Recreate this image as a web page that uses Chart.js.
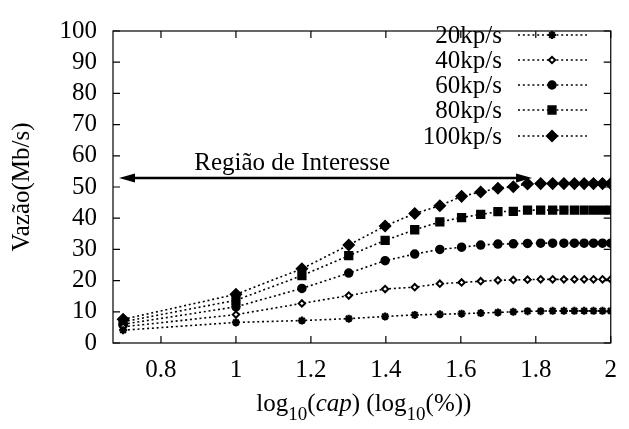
<!DOCTYPE html>
<html><head><meta charset="utf-8">
<script src="https://cdn.jsdelivr.net/npm/chart.js@4/dist/chart.umd.min.js"></script>
<style>html,body{margin:0;padding:0;background:#fff}#wrap{width:629px;height:429px}</style>
</head><body><div id="wrap"><canvas id="c" width="629" height="429"></canvas></div>
<script>
// x = log10(cap) positions (cap = 5,10,...,100 %)
const xVals = [0.699, 1.000, 1.176, 1.301, 1.398, 1.477, 1.544, 1.602, 1.653, 1.699,
               1.740, 1.778, 1.813, 1.845, 1.875, 1.903, 1.929, 1.954, 1.978, 2.000];
const seriesLabels = ['20kp/s', '40kp/s', '60kp/s', '80kp/s', '100kp/s'];
const s20  = [4.1, 6.6, 7.2, 7.8, 8.5, 9.0, 9.2, 9.4, 9.6, 9.8, 10.0, 10.2, 10.2, 10.3, 10.3, 10.3, 10.3, 10.3, 10.3, 10.3];
const s40  = [5.2, 9.1, 12.7, 15.2, 17.3, 17.9, 19.0, 19.4, 19.8, 20.1, 20.2, 20.3, 20.4, 20.4, 20.4, 20.4, 20.4, 20.4, 20.4, 20.4];
const s60  = [6.0, 11.6, 17.5, 22.4, 26.4, 28.5, 30.0, 30.7, 31.4, 31.7, 31.8, 31.9, 32.0, 32.0, 32.0, 32.0, 32.0, 32.0, 32.0, 32.0];
const s80  = [6.8, 13.7, 21.6, 28.0, 32.9, 36.3, 38.8, 40.2, 41.2, 42.1, 42.2, 42.6, 42.6, 42.6, 42.6, 42.6, 42.6, 42.6, 42.6, 42.6];
const s100 = [7.6, 15.6, 23.8, 31.4, 37.5, 41.5, 44.0, 47.0, 48.4, 49.6, 50.1, 51.0, 51.1, 51.1, 51.1, 51.1, 51.1, 51.1, 51.1, 51.1];
const xTicks = [0.8, 1.0, 1.2, 1.4, 1.6, 1.8, 2.0];
const yTicks = [0, 10, 20, 30, 40, 50, 60, 70, 80, 90, 100];
const yTitle = 'Vazão(Mb/s)';
const xTitleParts = [
  {t: 'log'}, {t: '10', sub: true}, {t: '('}, {t: 'cap', it: true}, {t: ') (log'}, {t: '10', sub: true}, {t: '(%))'}
];
const annotationText = 'Região de Interesse';
const arrowFrom = 0.688, arrowTo = 1.79, arrowY = 52.9, annotationTextX = 1.15, annotationTextY = 57.5;

const FONT = "'Liberation Serif', 'Times New Roman', serif";
const FS = 25;

const styles = [
  {pointStyle: 'star', radius: 4, borderWidth: 2.2, bg: '#000'},
  {pointStyle: 'rectRot', radius: 3.2, borderWidth: 2, bg: '#fff'},
  {pointStyle: 'circle', radius: 4, borderWidth: 1.5, bg: '#000'},
  {pointStyle: 'rect', radius: 5.5, borderWidth: 1.5, bg: '#000'},
  {pointStyle: 'rectRot', radius: 5.5, borderWidth: 1.5, bg: '#000'}
];
const seriesData = [s20, s40, s60, s80, s100];

const datasets = seriesData.map((arr, i) => ({
  label: seriesLabels[i],
  data: arr.map((v, j) => ({x: xVals[j], y: v})),
  borderColor: '#000',
  borderWidth: 1.6,
  borderDash: [2, 2.8],
  pointStyle: styles[i].pointStyle,
  pointRadius: styles[i].radius,
  pointBorderWidth: styles[i].borderWidth,
  pointBackgroundColor: styles[i].bg,
  pointBorderColor: '#000',
  fill: false,
  tension: 0
}));

const framePlugin = {
  id: 'frame',
  afterDatasetsDraw(chart) {
    const ctx = chart.ctx;
    const xs = chart.scales.x, ys = chart.scales.y;
    // annotation arrow
    const x1 = xs.getPixelForValue(arrowFrom), x2 = xs.getPixelForValue(arrowTo), y = ys.getPixelForValue(arrowY);
    ctx.save();
    ctx.strokeStyle = '#000'; ctx.fillStyle = '#000'; ctx.lineWidth = 2.5;
    ctx.beginPath(); ctx.moveTo(x1 + 8, y); ctx.lineTo(x2 - 8, y); ctx.stroke();
    const head = (xt, dir) => {
      ctx.beginPath(); ctx.moveTo(xt, y); ctx.lineTo(xt - dir * 16, y - 4.5); ctx.lineTo(xt - dir * 16, y + 4.5); ctx.closePath(); ctx.fill();
    };
    head(x1, -1); head(x2, 1);
    ctx.font = FS + 'px ' + FONT; ctx.textAlign = 'center'; ctx.textBaseline = 'middle';
    ctx.fillText(annotationText, xs.getPixelForValue(annotationTextX), ys.getPixelForValue(annotationTextY));
    ctx.restore();
  },
  afterDraw(chart) {
    const ctx = chart.ctx;
    const a = chart.chartArea;
    const xs = chart.scales.x, ys = chart.scales.y;
    ctx.save();
    ctx.strokeStyle = '#000'; ctx.lineWidth = 1.2;
    ctx.strokeRect(a.left, a.top, a.right - a.left, a.bottom - a.top);
    const TL = 7;
    ctx.beginPath();
    xTicks.forEach(v => {
      const px = xs.getPixelForValue(v);
      ctx.moveTo(px, a.bottom); ctx.lineTo(px, a.bottom - TL);
      ctx.moveTo(px, a.top); ctx.lineTo(px, a.top + TL);
    });
    yTicks.forEach(v => {
      const py = ys.getPixelForValue(v);
      ctx.moveTo(a.left, py); ctx.lineTo(a.left + TL, py);
      ctx.moveTo(a.right, py); ctx.lineTo(a.right - TL, py);
    });
    ctx.stroke();
    // y title
    ctx.fillStyle = '#000';
    ctx.font = FS + 'px ' + FONT;
    ctx.save();
    ctx.translate(22, (a.top + a.bottom) / 2 + 0);
    ctx.rotate(-Math.PI / 2);
    ctx.textAlign = 'center'; ctx.textBaseline = 'middle';
    ctx.fillText(yTitle, 0, 0);
    ctx.restore();
    // x title with subscripts
    const SUB = 19;
    const fontOf = p => (p.it ? 'italic ' : '') + (p.sub ? SUB : FS) + 'px ' + FONT;
    let total = 0;
    xTitleParts.forEach(p => { ctx.font = fontOf(p); total += ctx.measureText(p.t).width; });
    let cx = (a.left + a.right) / 2 + 2 - total / 2;
    const base = 411;
    ctx.textAlign = 'left'; ctx.textBaseline = 'alphabetic';
    xTitleParts.forEach(p => {
      ctx.font = fontOf(p);
      ctx.fillText(p.t, cx, p.sub ? base + 9 : base);
      cx += ctx.measureText(p.t).width;
    });
    // legend
    const legY = [35, 60, 85, 110, 136];
    seriesLabels.forEach((lab, i) => {
      const ly = legY[i];
      ctx.font = FS + 'px ' + FONT;
      ctx.textAlign = 'right'; ctx.textBaseline = 'middle'; ctx.fillStyle = '#000';
      ctx.fillText(lab, 502, ly + 1);
      ctx.strokeStyle = '#000';
      ctx.setLineDash([2, 2.8]); ctx.lineWidth = 1.5;
      ctx.beginPath(); ctx.moveTo(518, ly); ctx.lineTo(587, ly); ctx.stroke();
      ctx.setLineDash([]);
      const st = styles[i];
      ctx.fillStyle = st.bg; ctx.strokeStyle = '#000'; ctx.lineWidth = st.borderWidth;
      Chart.helpers.drawPoint(ctx, {pointStyle: st.pointStyle, radius: st.radius, borderWidth: st.borderWidth, rotation: 0}, 552, ly);
    });
    ctx.restore();
  }
};

new Chart(document.getElementById('c'), {
  type: 'line',
  data: {datasets},
  plugins: [framePlugin],
  options: {
    responsive: false,
    animation: false,
    devicePixelRatio: 1,
    layout: {padding: {left: 0, right: 17, top: 13, bottom: 0}},
    plugins: {legend: {display: false}, tooltip: {enabled: false}},
    scales: {
      x: {
        type: 'linear', min: 0.672, max: 2,
        afterFit(s) { s.height = 86; },
        afterBuildTicks(s) { s.ticks = xTicks.map(v => ({value: v})); },
        ticks: {
          color: '#000', font: {family: FONT, size: FS}, padding: 12, maxRotation: 0, autoSkip: false,
          callback: v => String(Number(v.toFixed(1)))
        },
        grid: {display: false, drawTicks: false},
        border: {display: false}
      },
      y: {
        type: 'linear', min: 0, max: 100,
        afterFit(s) { s.width = 113; },
        afterBuildTicks(s) { s.ticks = yTicks.map(v => ({value: v})); },
        ticks: {color: '#000', font: {family: FONT, size: FS}, padding: 16, autoSkip: false},
        grid: {display: false, drawTicks: false},
        border: {display: false}
      }
    }
  }
});
</script>
</body></html>
